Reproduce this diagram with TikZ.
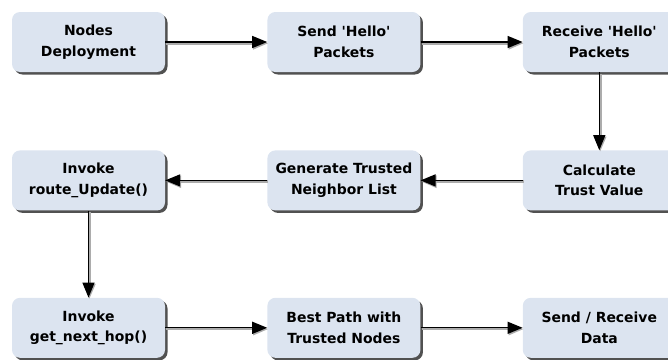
\documentclass[tikz,border=0pt]{standalone}
\usepackage{fontspec}
\setmainfont{DejaVu Sans}
\usetikzlibrary{arrows.meta,positioning,shadows}

\definecolor{boxfill}{RGB}{220,228,240}

\begin{document}
\begin{tikzpicture}[>={Triangle[length=15bp,width=12bp]},
  flow/.style={->,black,line width=1.3bp,
    preaction={draw=gray!65,line width=2.6bp,transform canvas={xshift=0.9bp,yshift=-1.3bp}}},
  step node/.style={rectangle,rounded corners=8bp,fill=boxfill,draw=none,
    minimum width=153bp,minimum height=60bp,align=center,
    drop shadow={shadow xshift=2.5bp,shadow yshift=-2.5bp,fill=black!80,opacity=0.85},
    font=\bfseries\fontsize{14}{20.5}\selectfont}]

 \useasboundingbox (0,0) rectangle (668bp,-360bp);

 \node[step node] (1) at (88.5bp,-42bp) {Nodes\\Deployment};
 \node[step node] (2) [right=102bp of 1] {Send \textquotesingle Hello\textquotesingle\\Packets};
 \node[step node] (3) [right=102bp of 2] {Receive \textquotesingle Hello\textquotesingle\\Packets};
 \node[step node] (4) [below=78bp of 3] {Calculate\\Trust Value};
 \node[step node] (5) [left=102bp of 4] {Generate Trusted\\Neighbor List};
 \node[step node] (6) [left=102bp of 5] {Invoke\\route\_Update()};
 \node[step node] (7) [below=87bp of 6] {Invoke\\get\_next\_hop()};
 \node[step node] (8) [right=102bp of 7] {Best Path with\\Trusted Nodes};
 \node[step node] (9) [right=102bp of 8] {Send / Receive\\Data};

 \path
    (1) edge [flow] (2)
    (2) edge [flow] (3)
    (3) edge [flow] (4)
    (4) edge [flow] (5)
    (5) edge [flow] (6)
    (6) edge [flow] (7)
    (7) edge [flow] (8)
    (8) edge [flow] (9);

\end{tikzpicture}
\end{document}
